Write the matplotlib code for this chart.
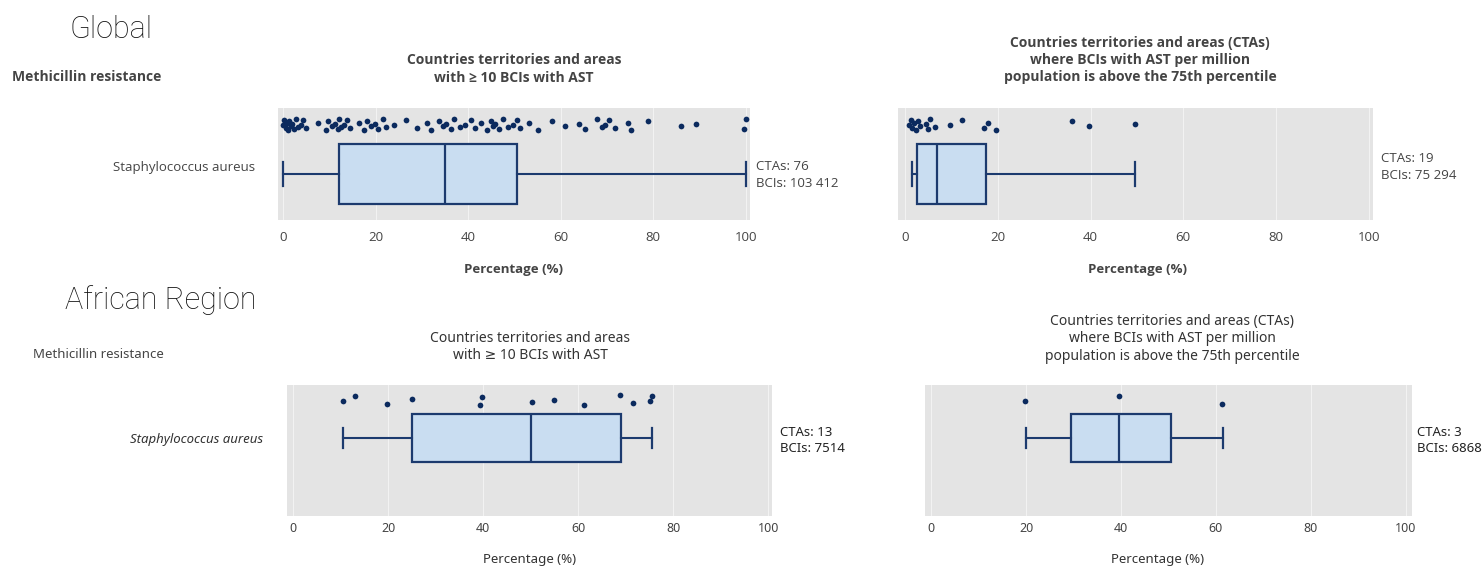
import numpy as np
import matplotlib
matplotlib.use('Agg')
import matplotlib.pyplot as plt

# データ
organism = 'Staphylococcus aureus'

# Global: CTAs with >= 10 BCIs
glob_all_pct = [0.0, 0.3, 0.6, 0.9, 1.0, 1.3, 1.7, 2.0, 2.4, 2.8, 3.3, 3.8, 4.4, 5.0,
                7.5, 9.2, 9.8, 10.5, 11.2, 11.8, 12.0, 12.5, 13.1, 13.8, 14.5,
                16.5, 17.4, 18.2, 19.0, 19.8, 20.6, 21.5, 22.3, 24.0,
                26.5, 29.0, 31.0, 32.0, 33.8,
                34.6, 35.3, 36.2, 37.0, 38.3, 39.4, 40.6, 41.5, 42.8, 44.0, 44.9, 45.3,
                45.8, 46.7, 47.5, 48.6, 49.6, 50.5, 51.3,
                53.2, 55.0, 58.2, 61.0, 64.0, 65.2,
                67.8, 68.9, 69.6, 70.5, 71.8,
                74.6, 75.2, 78.8, 86.0, 89.2, 99.6, 100.0]
glob_all_box = [0.0, 12.0, 35.0, 50.5, 100.0]   # whislo, q1, med, q3, whishi
glob_all_n = ['CTAs: 76', 'BCIs: 103 412']

# Global: CTAs above 75th percentile
glob_top_pct = [0.8, 1.2, 1.5, 2.0, 2.3, 2.8, 3.2, 4.5, 5.0, 5.5, 6.5,
                9.7, 12.3, 17.0, 17.8, 19.6, 36.0, 39.6, 49.5]
glob_top_box = [1.5, 2.5, 7.0, 17.5, 49.5]
glob_top_n = ['CTAs: 19', 'BCIs: 75 294']

# African Region
afr_all_pct = [10.5, 13.0, 19.8, 25.0, 39.4, 39.8, 50.3, 55.0, 61.3, 68.8, 71.6, 75.2, 75.6]
afr_all_box = [10.5, 25.0, 50.0, 69.0, 75.5]
afr_all_n = ['CTAs: 13', 'BCIs: 7514']

afr_top_pct = [19.8, 39.6, 61.3]
afr_top_box = [20.0, 29.5, 39.5, 50.5, 61.5]
afr_top_n = ['CTAs: 3', 'BCIs: 6868']

title_all = 'Countries territories and areas\nwith \u2265 10 BCIs with AST'
title_top = ('Countries territories and areas (CTAs)\nwhere BCIs with AST per million\n'
             'population is above the 75th percentile')
xticks = [0, 20, 40, 60, 80, 100]

# 色
bg = '#e4e4e4'
box_face = '#c9ddf1'
box_edge = '#1c3a6e'
dot_col = '#0b2a5e'
txt_col = '#444444'

# フォント (≥ が無い場合は DejaVu Sans へ)
f_top = ['Open Sans', 'DejaVu Sans']
f_bot = ['Noto Sans', 'DejaVu Sans']

W, H = 1483, 568
fig = plt.figure(figsize=(W / 100, H / 100), dpi=100)


def add_ax(l, r, t, b):
    return fig.add_axes([l / W, 1 - b / H, (r - l) / W, (b - t) / H])


jit = [0.0, 0.045, -0.03, 0.02, -0.045, 0.035, -0.015, 0.01, -0.04, 0.05, -0.02]


def draw_panel(ax, pct, box, xlim, box_y, box_h, dot_y, dot_j, font, pad, lsize):
    ax.set_facecolor(bg)
    for s in ax.spines.values():
        s.set_visible(False)
    ax.set_xlim(xlim)
    ax.set_ylim(0, 1)
    ax.set_xticks(xticks)
    ax.set_yticks([])
    ax.grid(axis='x', color='#f2f2f2', linewidth=0.8)
    ax.set_axisbelow(True)
    ax.tick_params(axis='x', length=0, pad=pad, labelsize=lsize, labelcolor=txt_col)
    for lb in ax.get_xticklabels():
        lb.set_family(font)

    stats = [dict(whislo=box[0], q1=box[1], med=box[2], q3=box[3], whishi=box[4], fliers=[])]
    ax.bxp(stats, positions=[box_y], widths=box_h, vert=False, patch_artist=True,
           showfliers=False, manage_ticks=False,
           boxprops=dict(facecolor=box_face, edgecolor=box_edge, linewidth=1.6),
           medianprops=dict(color=box_edge, linewidth=1.6),
           whiskerprops=dict(color=box_edge, linewidth=1.5),
           capprops=dict(color=box_edge, linewidth=1.6),
           capwidths=box_h * 0.4)

    ys = [dot_y + jit[i % len(jit)] * dot_j for i in range(len(pct))]
    ax.scatter(pct, ys, s=17, color=dot_col, zorder=3, linewidths=0)


# --- Global ---
fig.text(70 / W, 1 - 30 / H, 'Global', fontsize=22, family='Roboto', fontweight='light',
         va='center', ha='left', color='#111111')
fig.text(12 / W, 1 - 77 / H, 'Methicillin resistance', fontsize=10, family=f_top,
         fontweight='bold', va='center', ha='left', color=txt_col)

ax1 = add_ax(278, 750, 108, 220)
draw_panel(ax1, glob_all_pct, glob_all_box, (-1.1, 100.9), 0.41, 0.54, 0.85, 1.0,
           f_top, 8, 9.5)
ax2 = add_ax(898, 1373, 108, 220)
draw_panel(ax2, glob_top_pct, glob_top_box, (-1.5, 100.9), 0.41, 0.54, 0.85, 1.0,
           f_top, 8, 9.5)

fig.text(514 / W, 1 - 69 / H, title_all, fontsize=10, family=f_top, fontweight='bold',
         ha='center', va='center', color=txt_col, linespacing=1.3)
fig.text(1140 / W, 1 - 60 / H, title_top, fontsize=10, family=f_top, fontweight='bold',
         ha='center', va='center', color=txt_col, linespacing=1.3)
fig.text(255 / W, 1 - 168 / H, organism, fontsize=9.5, family=f_top,
         ha='right', va='center', color=txt_col)
fig.text(756 / W, 1 - 175 / H, '\n'.join(glob_all_n), fontsize=9.5, family=f_top,
         ha='left', va='center', color=txt_col, linespacing=1.4)
fig.text(1381 / W, 1 - 167 / H, '\n'.join(glob_top_n), fontsize=9.5, family=f_top,
         ha='left', va='center', color=txt_col, linespacing=1.4)
fig.text(514 / W, 1 - 270 / H, 'Percentage (%)', fontsize=9.5, family=f_top,
         fontweight='bold', ha='center', va='center', color=txt_col)
fig.text(1137 / W, 1 - 270 / H, 'Percentage (%)', fontsize=9.5, family=f_top,
         fontweight='bold', ha='center', va='center', color=txt_col)

# --- African Region ---
fig.text(65 / W, 1 - 300 / H, 'African Region', fontsize=22, family='Roboto',
         fontweight='light', va='center', ha='left', color='#111111')
fig.text(33 / W, 1 - 355 / H, 'Methicillin resistance', fontsize=9.5, family=f_bot,
         fontweight='medium', va='center', ha='left', color=txt_col)

ax3 = add_ax(287, 772, 385, 516)
draw_panel(ax3, afr_all_pct, afr_all_box, (-1.3, 100.8), 0.595, 0.37, 0.88, 0.8,
           f_bot, 4, 9)
ax4 = add_ax(925, 1412, 385, 516)
draw_panel(ax4, afr_top_pct, afr_top_box, (-1.3, 101.3), 0.595, 0.37, 0.88, 0.8,
           f_bot, 4, 9)

fig.text(530 / W, 1 - 347 / H, title_all, fontsize=10, family=f_bot,
         ha='center', va='center', color='#333333', linespacing=1.25)
fig.text(1172 / W, 1 - 339 / H, title_top, fontsize=10, family=f_bot,
         ha='center', va='center', color='#333333', linespacing=1.25)
fig.text(263 / W, 1 - 440 / H, organism, fontsize=9.5, family=f_bot, style='italic',
         ha='right', va='center', color='#333333')
fig.text(780 / W, 1 - 440 / H, '\n'.join(afr_all_n), fontsize=9.5, family=f_bot,
         ha='left', va='center', color='#222222', linespacing=1.3)
fig.text(1417 / W, 1 - 440 / H, '\n'.join(afr_top_n), fontsize=9.5, family=f_bot,
         ha='left', va='center', color='#222222', linespacing=1.3)
fig.text(530 / W, 1 - 560 / H, 'Percentage (%)', fontsize=9.5, family=f_bot,
         ha='center', va='center', color='#333333')
fig.text(1158 / W, 1 - 560 / H, 'Percentage (%)', fontsize=9.5, family=f_bot,
         ha='center', va='center', color='#333333')

fig.savefig('out.png', dpi=100, facecolor='white')
